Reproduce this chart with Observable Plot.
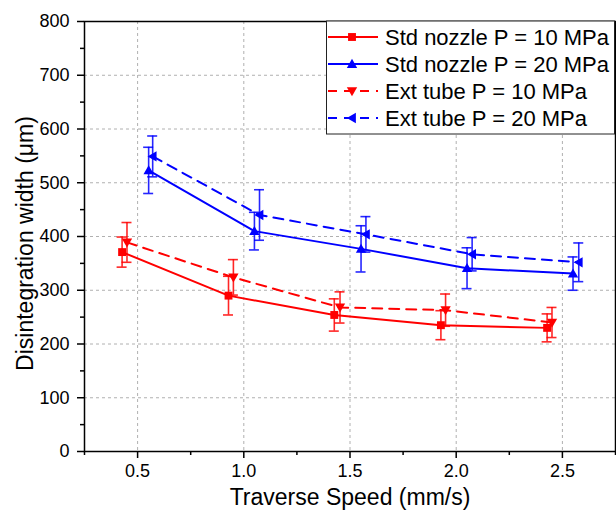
<!DOCTYPE html>
<html>
<head>
<meta charset="utf-8">
<script src="https://cdn.jsdelivr.net/npm/d3@7"></script>
<script src="https://cdn.jsdelivr.net/npm/@observablehq/plot@0.6"></script>
<style>
  html, body { margin: 0; padding: 0; background: #fff; }
  #chart { width: 616px; height: 518px; position: relative; }
  svg { font-family: "Liberation Sans", Arial, sans-serif; }
</style>
</head>
<body>
<div id="chart"></div>
<script>
// ---- data ----
const seriesNames = ["Std nozzle P = 10 MPa", "Std nozzle P = 20 MPa", "Ext tube P = 10 MPa", "Ext tube P = 20 MPa"];
const seriesColors = ["#ff0000", "#0000ff", "#ff0000", "#0000ff"];
const seriesDash = [null, null, "10,7", "10,7"];
const seriesSymbols = ["square", "up", "down", "left"];

const xStd10 = [0.427, 0.928, 1.426, 1.928, 2.428];
const yStd10 = [371, 290, 254, 235, 230];
const eStd10 = [28, 36, 30, 27, 26];

const xStd20 = [0.552, 1.050, 1.552, 2.051, 2.550];
const yStd20 = [523, 410, 377, 341, 331];
const eStd20 = [43, 35, 43, 38, 31];

const xExt10 = [0.450, 0.951, 1.453, 1.950, 2.451];
const yExt10 = [389, 324, 268, 263, 240];
const eExt10 = [37, 33, 29, 30, 28];

const xExt20 = [0.571, 1.074, 1.575, 2.075, 2.577];
const yExt20 = [549, 440, 404, 367, 352];
const eExt20 = [38, 47, 33, 31, 36];

const xTicks = [0.5, 1.0, 1.5, 2.0, 2.5];
const xMinor = [0.25, 0.75, 1.25, 1.75, 2.25, 2.75];
const yTicks = [0, 100, 200, 300, 400, 500, 600, 700, 800];
const yMinor = [50, 150, 250, 350, 450, 550, 650, 750];
const xLabel = "Traverse Speed (mm/s)";
const yLabel = "Disintegration width (μm)";

// ---- marker shapes ----
const symbolDefs = {
  square: {draw(ctx, size) { const s = Math.sqrt(size) * 0.42; ctx.rect(-s, -s, 2 * s, 2 * s); }},
  up: {draw(ctx, size) { const w = Math.sqrt(size) * 0.55; ctx.moveTo(0, -w); ctx.lineTo(w, w * 0.75); ctx.lineTo(-w, w * 0.75); ctx.closePath(); }},
  down: {draw(ctx, size) { const w = Math.sqrt(size) * 0.55; ctx.moveTo(0, w); ctx.lineTo(w, -w * 0.75); ctx.lineTo(-w, -w * 0.75); ctx.closePath(); }},
  left: {draw(ctx, size) { const w = Math.sqrt(size) * 0.55; ctx.moveTo(-w, 0); ctx.lineTo(w * 0.75, -w); ctx.lineTo(w * 0.75, w); ctx.closePath(); }}
};
const markerR = 5.3;

const xs = [xStd10, xStd20, xExt10, xExt20];
const ys = [yStd10, yStd20, yExt10, yExt20];
const es = [eStd10, eStd20, eExt10, eExt20];
const tables = xs.map((xa, s) => xa.map((x, i) => ({x, y: ys[s][i], lo: ys[s][i] - es[s][i], hi: ys[s][i] + es[s][i]})));

const marks = [
  Plot.gridX(xTicks, {stroke: "#b0b0b0", strokeOpacity: 1, strokeDasharray: "3,3", strokeWidth: 1}),
  Plot.gridY(yTicks.filter(d => d > 0 && d < 800), {stroke: "#b0b0b0", strokeOpacity: 1, strokeDasharray: "3,3", strokeWidth: 1}),
  Plot.axisX(xTicks, {tickSize: 7, tickPadding: 6, fontSize: 18, tickFormat: d3.format(".1f"), label: null, strokeWidth: 1.5, color: "#000"}),
  Plot.axisX(xMinor, {tickSize: 4, tickFormat: () => "", label: null, strokeWidth: 1.5}),
  Plot.axisY(yTicks, {tickSize: 7, tickPadding: 8, fontSize: 18, label: null, strokeWidth: 1.5, color: "#000"}),
  Plot.axisY(yMinor, {tickSize: 4, tickFormat: () => "", label: null, strokeWidth: 1.5}),
  Plot.text([xLabel], {frameAnchor: "bottom", lineAnchor: "middle", textAnchor: "middle", dy: 46, fontSize: 23, fill: "#000"}),
  Plot.text([yLabel], {frameAnchor: "left", textAnchor: "middle", lineAnchor: "middle", rotate: -90, dx: -59, dy: 7, fontSize: 23, fill: "#000"})
];

tables.forEach((t, s) => {
  marks.push(Plot.line(t, {x: "x", y: "y", stroke: seriesColors[s], strokeWidth: 2, strokeDasharray: seriesDash[s] || undefined}));
  marks.push(Plot.ruleX(t, {x: "x", y1: "lo", y2: "hi", stroke: seriesColors[s], strokeWidth: 1.6, strokeOpacity: 0.85}));
  marks.push(Plot.ruleY(t, {y: "lo", x1: "x", x2: "x", insetLeft: -5, insetRight: -5, stroke: seriesColors[s], strokeWidth: 1.6, strokeOpacity: 0.85}));
  marks.push(Plot.ruleY(t, {y: "hi", x1: "x", x2: "x", insetLeft: -5, insetRight: -5, stroke: seriesColors[s], strokeWidth: 1.6, strokeOpacity: 0.85}));
});
tables.forEach((t, s) => {
  marks.push(Plot.dot(t, {x: "x", y: "y", fill: seriesColors[s], stroke: "none", r: markerR, symbol: symbolDefs[seriesSymbols[s]]}));
});
marks.push(Plot.frame({stroke: "#000", strokeWidth: 1.5}));

const chart = Plot.plot({
  width: 616,
  height: 518,
  marginLeft: 84,
  marginRight: 1,
  marginTop: 21,
  marginBottom: 67,
  style: {fontFamily: "'Liberation Sans', Arial, sans-serif", background: "#fff", color: "#000"},
  x: {domain: [0.25, 2.75]},
  y: {domain: [0, 800]},
  marks
});
document.getElementById("chart").appendChild(chart);

// ---- legend inside the plot, top-right ----
const svg = d3.select(chart);
const lg = svg.append("g").attr("class", "legend").attr("text-anchor", "start");
const box = {x: 326, y: 21, w: 288, h: 113};
lg.append("rect").attr("x", box.x + 0.5).attr("y", box.y).attr("width", box.w).attr("height", box.h)
  .attr("fill", "#fff").attr("stroke", "#222").attr("stroke-width", 1);
const rowY = [37, 64, 91, 118];
seriesNames.forEach((name, s) => {
  const cy = rowY[s];
  const g = lg.append("g");
  g.append("line").attr("x1", 328).attr("x2", 378).attr("y1", cy).attr("y2", cy)
    .attr("stroke", seriesColors[s]).attr("stroke-width", 2)
    .attr("stroke-dasharray", seriesDash[s] ? "9,7" : null);
  g.append("path").attr("transform", `translate(352,${cy})`)
    .attr("d", d3.symbol(symbolDefs[seriesSymbols[s]], Math.PI * markerR * markerR)())
    .attr("fill", seriesColors[s]);
  g.append("text").attr("x", 385).attr("y", cy + 8).attr("font-size", 22).attr("fill", "#000")
    .attr("text-anchor", "start").text(name);
});
</script>
</body>
</html>
